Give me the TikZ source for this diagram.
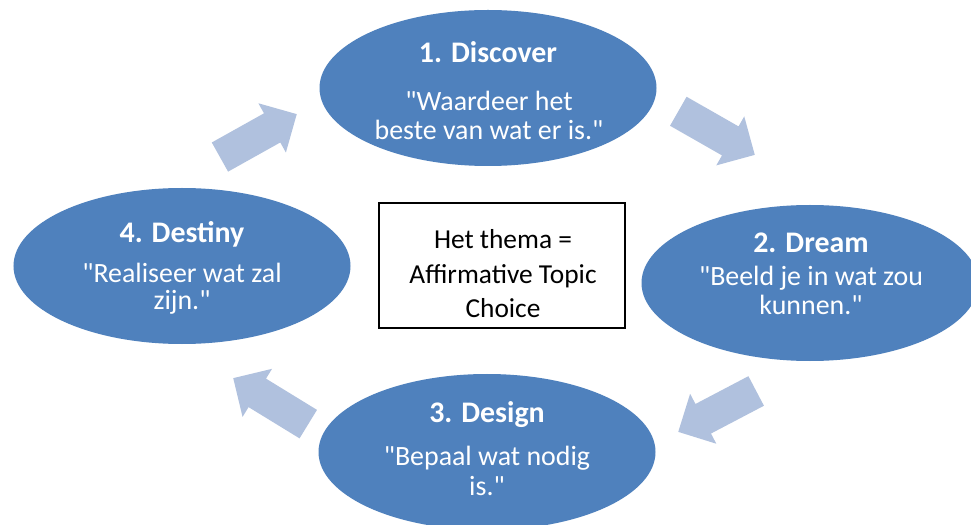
\documentclass[tikz,border=0pt]{standalone}
\usepackage{fontspec}
\setmainfont{Carlito}
\usetikzlibrary{shapes.geometric,shapes.arrows}
\definecolor{ellblue}{RGB}{79,129,189}
\definecolor{arrblue}{RGB}{176,193,222}
\newcommand\dq{\XeTeXglyph\XeTeXcharglyph"22\relax}
\begin{document}
\begin{tikzpicture}[x=1bp,y=-1bp,
  phase/.style={ellipse, fill=ellblue, draw=none, minimum width=337bp, minimum height=156bp, inner sep=0pt},
  ttl/.style={text=white, font=\fontsize{30}{36}\selectfont\bfseries, anchor=base, inner sep=0pt},
  body/.style={text=white, font=\fontsize{28}{30}\selectfont, anchor=base, inner sep=0pt, align=center},
  blk/.style={single arrow, fill=arrblue, draw=none, minimum height=88bp, single arrow head extend=11.5bp, inner xsep=0pt, inner ysep=16.5bp, anchor=tip},
  themebox/.style={rectangle, draw=black, line width=1.3bp, fill=white, minimum width=246bp, minimum height=125bp, inner sep=0pt},
  themetxt/.style={text=black, font=\fontsize{27.5}{35}\selectfont, anchor=base, inner sep=0pt, align=center}]
\useasboundingbox (0,0) rectangle (971,525);
\clip (0,0) rectangle (971,525);
\fill[white] (0,0) rectangle (971,525);
% phases
\node[phase] (discover) at (488,88) {};
\node[phase] (dream) at (810,283) {};
\node[phase] (design) at (487,452) {};
\node[phase] (destiny) at (182,266) {};
% block arrows (placed by their tips)
\node[blk, rotate=29.2] (a1) at (297,114) {};
\node[blk, rotate=-29.7] (a2) at (755,155) {};
\node[blk, rotate=207.7] (a3) at (678,432) {};
\node[blk, rotate=148.5] (a4) at (233,378) {};
% texts
\node[ttl] (t1) at (488,63) {1. Discover};
\node[body] (b1) at (489,140) {\dq Waardeer het\\beste van wat er is.\dq};
\node[ttl] (t2) at (811,253) {2. Dream};
\node[body] (b2) at (811,315) {\dq Beeld je in wat zou\\kunnen.\dq};
\node[ttl] (t3) at (487,422) {3. Design};
\node[body] (b3) at (487,495) {\dq Bepaal wat nodig\\is.\dq};
\node[ttl] (t4) at (182,243) {4. Destiny};
\node[body, font=\fontsize{28}{28}\selectfont] (b4) at (182,310) {\dq Realiseer wat zal\\zijn.\dq};
% theme box
\node[themebox] (theme) at (502,265.5) {};
\node[themetxt] (themetext) at (503,318) {Het thema =\\Affirmative Topic\\Choice};
\end{tikzpicture}
\end{document}
